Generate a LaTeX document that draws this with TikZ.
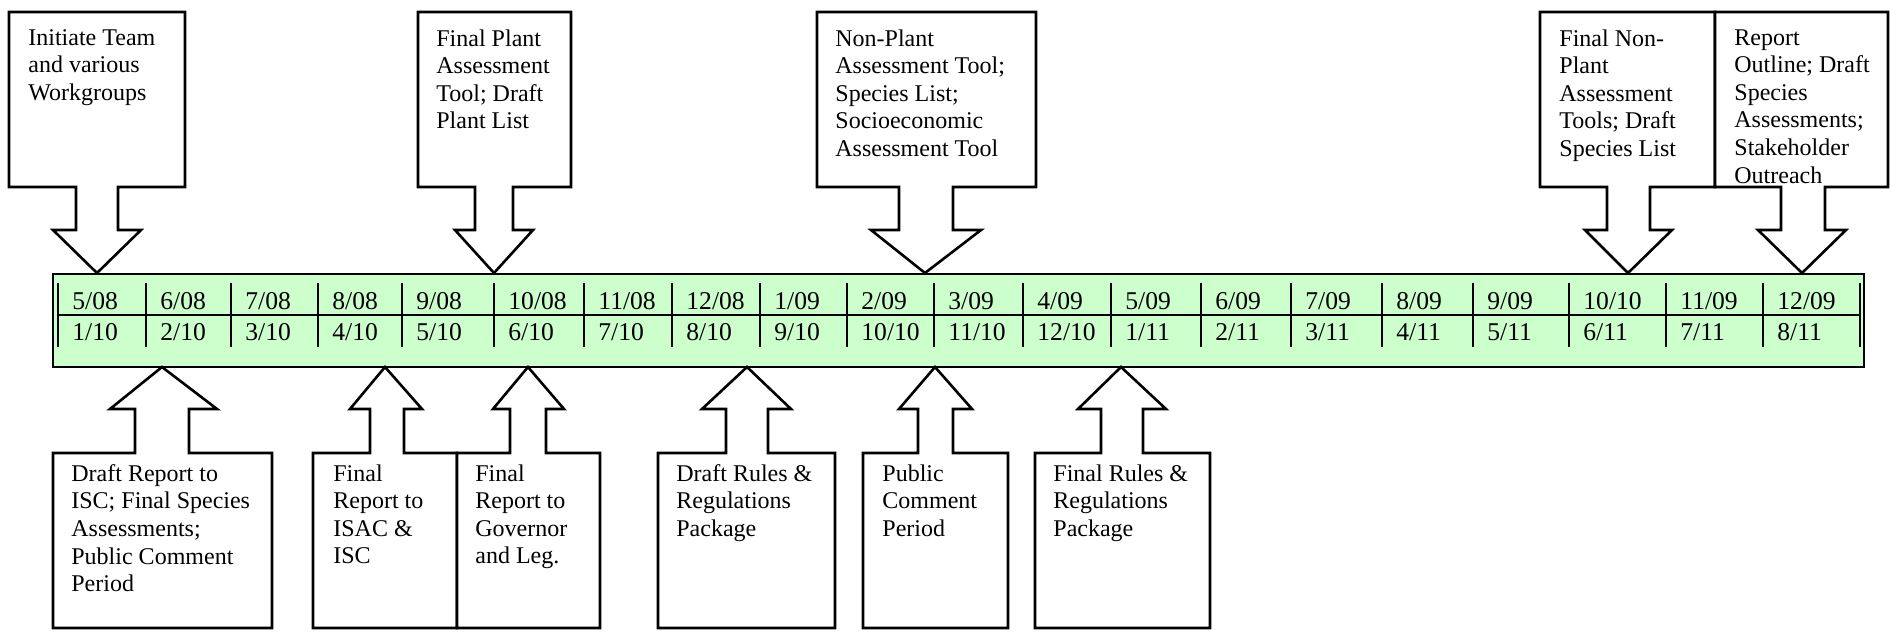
\documentclass[tikz,border=0pt]{standalone}
\usepackage{fontspec}
\setmainfont{Liberation Serif}
\definecolor{bandgreen}{RGB}{204,255,204}
\tikzset{
  callout/.style={draw=black, fill=white, line width=1.3pt, line join=miter},
  boxtext/.style={anchor=north west, inner sep=0pt, align=left, font=\fontsize{12}{13.8}\selectfont},
  celltext/.style={anchor=base west, inner sep=0pt, font=\fontsize{12.8}{14}\selectfont},
  tableline/.style={draw=black, line width=1pt},
}
\begin{document}
\begin{tikzpicture}[x=0.5pt,y=-0.5pt]
\useasboundingbox (0,0) rectangle (1892,634);

% green timeline band
\draw[fill=bandgreen, line width=1.4pt] (53,274) rectangle (1864,367);
% table rules
\draw[tableline] (58,315) -- (1860,315);
\foreach \xx in {58,146,231,318,402,494,584,672,760,847,934,1023,1111,1201,1291,1382,1473,1569,1666,1763,1860}
  \draw[tableline] (\xx,283) -- (\xx,347);
\draw[tableline, line width=1.4pt] (494,283) -- (494,347);
\draw[tableline, line width=1.4pt] (1201,283) -- (1201,347);

% table texts
\foreach \xx/\ta/\tb [count=\i] in {
  58/5\slash08/1\slash10, 146/6\slash08/2\slash10, 231/7\slash08/3\slash10, 318/8\slash08/4\slash10,
  402/9\slash08/5\slash10, 494/10\slash08/6\slash10, 584/11\slash08/7\slash10, 672/12\slash08/8\slash10,
  760/1\slash09/9\slash10, 847/2\slash09/10\slash10, 934/3\slash09/11\slash10, 1023/4\slash09/12\slash10,
  1111/5\slash09/1\slash11, 1201/6\slash09/2\slash11, 1291/7\slash09/3\slash11, 1382/8\slash09/4\slash11,
  1473/9\slash09/5\slash11, 1569/10\slash10/6\slash11, 1666/11\slash09/7\slash11, 1763/12\slash09/8\slash11}{
  \node[celltext] (ra\i) at (\xx+14,309) {\ta};
  \node[celltext] (rb\i) at (\xx+14,340) {\tb};
}

% callout outlines: #1 L, #2 R, #3 shaft L, #4 shaft R, #5 head L, #6 head R, #7 tip
\newcommand\calldown[7]{%
  \draw[callout] (#1,12) -- (#2,12) -- (#2,187) -- (#4,187) -- (#4,230) -- (#6,230) -- (#7,273)
    -- (#5,230) -- (#3,230) -- (#3,187) -- (#1,187) -- cycle;}
\newcommand\callup[7]{%
  \draw[callout] (#1,628) -- (#2,628) -- (#2,453) -- (#4,453) -- (#4,409) -- (#6,409) -- (#7,367)
    -- (#5,409) -- (#3,409) -- (#3,453) -- (#1,453) -- cycle;}

\calldown{9}{185}{76}{118}{53}{141}{97}
\calldown{418}{571}{475}{513}{455}{533}{494}
\calldown{817}{1036}{899}{953}{871}{981}{925}
\calldown{1540}{1715}{1607}{1650}{1585}{1672}{1628}
\calldown{1715}{1888}{1781}{1825}{1758}{1846}{1802}

\callup{53}{272}{135}{189}{110}{217}{162}
\callup{313}{457}{370}{404}{350}{422}{385}
\callup{457}{600}{510}{546}{493}{564}{528}
\callup{658}{835}{726}{768}{702}{791}{747}
\callup{863}{1008}{918}{953}{899}{972}{935}
\callup{1035}{1210}{1101}{1143}{1078}{1166}{1121}

% top texts
\node[boxtext] (t1) at (28,29) {Initiate Team\\and various\\Workgroups};
\node[boxtext] (t2) at (436,29) {Final Plant\\Assessment\\Tool; Draft\\Plant List};
\node[boxtext] (t3) at (835,29) {Non-Plant\\Assessment Tool;\\Species List;\\Socioeconomic\\Assessment Tool};
\node[boxtext] (t4) at (1559,29) {Final Non-\\Plant\\Assessment\\Tools; Draft\\Species List};
\node[boxtext] (t5) at (1734,29) {Report\\Outline; Draft\\Species\\Assessments;\\Stakeholder\\Outreach};

% bottom texts
\node[boxtext] (b1) at (71,464) {Draft Report to\\ISC; Final Species\\Assessments;\\Public Comment\\Period};
\node[boxtext] (b2) at (333,464) {Final\\Report to\\ISAC \&\\ISC};
\node[boxtext] (b3) at (475,464) {Final\\Report to\\Governor\\and Leg.};
\node[boxtext] (b4) at (676,464) {Draft Rules \&\\Regulations\\Package};
\node[boxtext] (b5) at (882,464) {Public\\Comment\\Period};
\node[boxtext] (b6) at (1053,464) {Final Rules \&\\Regulations\\Package};
\end{tikzpicture}
\end{document}
